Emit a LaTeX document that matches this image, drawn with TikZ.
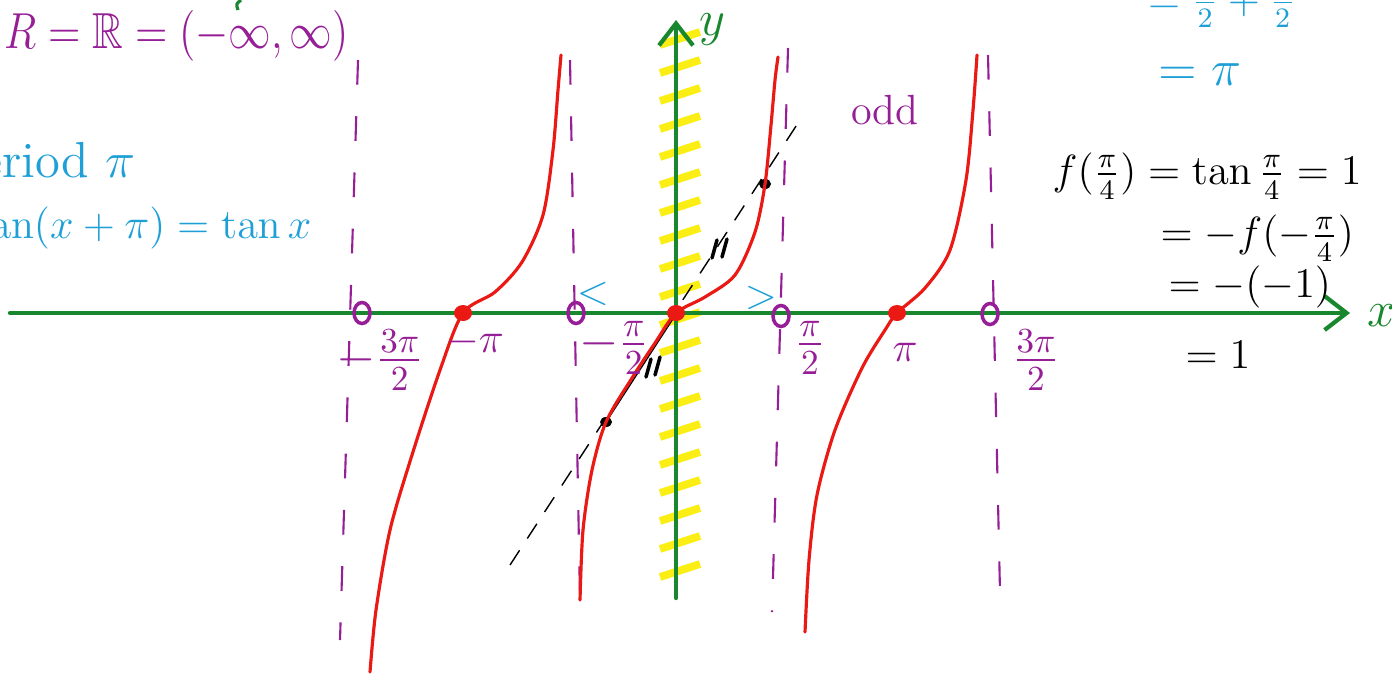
\documentclass[tikz,border=0pt]{standalone}
\usepackage{amsmath,amssymb}
\usetikzlibrary{arrows.meta,shapes.geometric}
\definecolor{penpurple}{RGB}{150,30,150}
\definecolor{penblue}{RGB}{30,160,215}
\definecolor{pengreen}{RGB}{25,135,45}
\definecolor{penred}{RGB}{235,25,20}
\definecolor{penyellow}{RGB}{250,238,20}
\tikzset{
  axisln/.style={draw=pengreen,line width=1.2pt,line cap=round,-{Straight Barb[length=2.2mm,width=3.4mm,line width=1.2pt]}},
  asymln/.style={draw=penpurple,line width=0.6pt,dash pattern=on 7pt off 9pt},
  tanln/.style={draw=penred,line width=0.9pt,line cap=round},
  hatchln/.style={draw=penyellow,line width=2.2pt},
  secln/.style={draw=black,line width=0.4pt,dash pattern=on 5pt off 4pt},
  tickln/.style={draw=black,line width=1pt,line cap=round},
  holemk/.style={ellipse,draw=penpurple,line width=1pt,minimum width=1.6mm,minimum height=2.1mm,inner sep=0},
  zeromk/.style={ellipse,fill=penred,inner sep=0,minimum width=1.8mm,minimum height=1.6mm},
  ptmk/.style={ellipse,fill=black,inner sep=0,minimum width=1.2mm,minimum height=1mm},
  purptxt/.style={text=penpurple,inner sep=0},
  bluetxt/.style={text=penblue,inner sep=0},
  blktxt/.style={text=black,inner sep=0},
  grntxt/.style={text=pengreen,inner sep=0}
}
\begin{document}
\begin{tikzpicture}[x=0.01cm,y=-0.01cm]
  \useasboundingbox (0,0) rectangle (1392,675);
  \fill[white] (0,0) rectangle (1392,675);
  \clip (0,0) rectangle (1392,675);

  % yellow hatching on the y axis
  \foreach \yy in {38,66,...,590}
    \draw[hatchln] (660,\yy+7) -- (700,\yy-6);

  % asymptotes
  \coordinate (a1t) at (358,60);  \coordinate (a1b) at (340,640);
  \coordinate (a2t) at (570,60);  \coordinate (a2b) at (580,600);
  \coordinate (a3t) at (788,48);  \coordinate (a3b) at (772,612);
  \coordinate (a4t) at (988,55);  \coordinate (a4b) at (1000,592);
  \draw[asymln] (a1t) -- (a1b);
  \draw[asymln] (a2t) -- (a2b);
  \draw[asymln] (a3t) -- (a3b);
  \draw[asymln] (a4t) -- (a4b);

  % axes
  \coordinate (xl) at (10,313);  \coordinate (xr) at (1350,313);
  \coordinate (yb) at (676,598); \coordinate (yt) at (676,20);
  \draw[axisln] (xl) -- (xr);
  \draw[axisln] (yb) -- (yt);
  \node[grntxt,font=\Large] (xlab) at (1382,316) {$x$};
  \node[grntxt,font=\Large] (ylab) at (712,30) {$y$};

  % secant through the two points
  \node[ptmk] (pl) at (606,422) {};
  \node[ptmk] (pu) at (765,184) {};
  \coordinate (sa) at (510,565); \coordinate (sb) at (800,120);
  \coordinate (org) at (676,314);
  \draw[secln] (sa) -- (sb);
  \draw[black,line width=0.4pt] (pl) -- (org);
  \draw[tickln] (712,258) -- (717,240);
  \draw[tickln] (722,257) -- (727,239);
  \draw[tickln] (646,377) -- (651,359);
  \draw[tickln] (655,375) -- (660,357);

  % tan branches
  \draw[tanln] plot[smooth] coordinates {(370,672) (376,610) (390,530) (412,455) (440,370) (463,313) (495,292) (522,262) (543,215) (553,150) (558,90) (561,55)};
  \draw[tanln] plot[smooth] coordinates {(580,600) (583,530) (592,470) (606,422) (632,378) (655,343) (676,313) (705,297) (735,275) (755,232) (765,184) (771,125) (775,80) (778,57)};
  \draw[tanln] plot[smooth] coordinates {(805,632) (809,560) (817,495) (835,430) (862,368) (885,330) (897,313) (925,288) (950,250) (966,180) (973,110) (977,55)};

  % holes and zeros
  \node[holemk] (h1) at (362,313) {};
  \node[holemk] (h2) at (576,313) {};
  \node[holemk] (h3) at (781,316) {};
  \node[holemk] (h4) at (990,314) {};
  \node[zeromk] (z1) at (463,313) {};
  \node[zeromk] (z2) at (676,313) {};
  \node[zeromk] (z3) at (897,313) {};
  \node[bluetxt,font=\large] (lt) at (593,294) {$<$};
  \node[bluetxt,font=\large] (gt) at (761,298) {$>$};

  % tick labels
  \node[purptxt,font=\Large] (lm3) at (380,360) {$-\frac{3\pi}{2}$};
  \node[purptxt,font=\large] (lm1) at (475,342) {$-\pi$};
  \node[purptxt,font=\Large] (lm12) at (614,348) {$-\frac{\pi}{2}$};
  \node[purptxt,font=\Large] (lp12) at (810,348) {$\frac{\pi}{2}$};
  \node[purptxt,font=\large] (lp1) at (905,352) {$\pi$};
  \node[purptxt,font=\Large] (lp3) at (1036,360) {$\frac{3\pi}{2}$};
  \node[purptxt,font=\large] (odd) at (885,110) {odd};

  % notes
  \draw[pengreen,line width=0.9pt] (241,0) .. controls (236,4) .. (238,10);
  \node[purptxt,font=\Large,anchor=west,xscale=0.84] (domain) at (4,36) {$R = \mathbb{R} = (-\infty,\infty)$};
  \node[bluetxt,font=\Large,anchor=east] (period) at (136,160) {Period $\pi$};
  \node[bluetxt,font=\large,anchor=east] (perrule) at (312,228) {$\tan(x+\pi) = \tan x$};
  \node[bluetxt,font=\large] (sumtop) at (1222,6) {$=\frac{\pi}{2}+\frac{\pi}{2}$};
  \node[bluetxt,font=\Large] (sumpi) at (1200,75) {$=\pi$};
  \node[blktxt,font=\large,anchor=west] (odd1) at (1052,176) {$f(\frac{\pi}{4}) = \tan\frac{\pi}{4} = 1$};
  \node[blktxt,font=\large,anchor=west] (odd2) at (1160,238) {$= -f(-\frac{\pi}{4})$};
  \node[blktxt,font=\large,anchor=west] (odd3) at (1168,287) {$= -(-1)$};
  \node[blktxt,font=\large,anchor=west] (odd4) at (1185,355) {$= 1$};
\end{tikzpicture}
\end{document}
